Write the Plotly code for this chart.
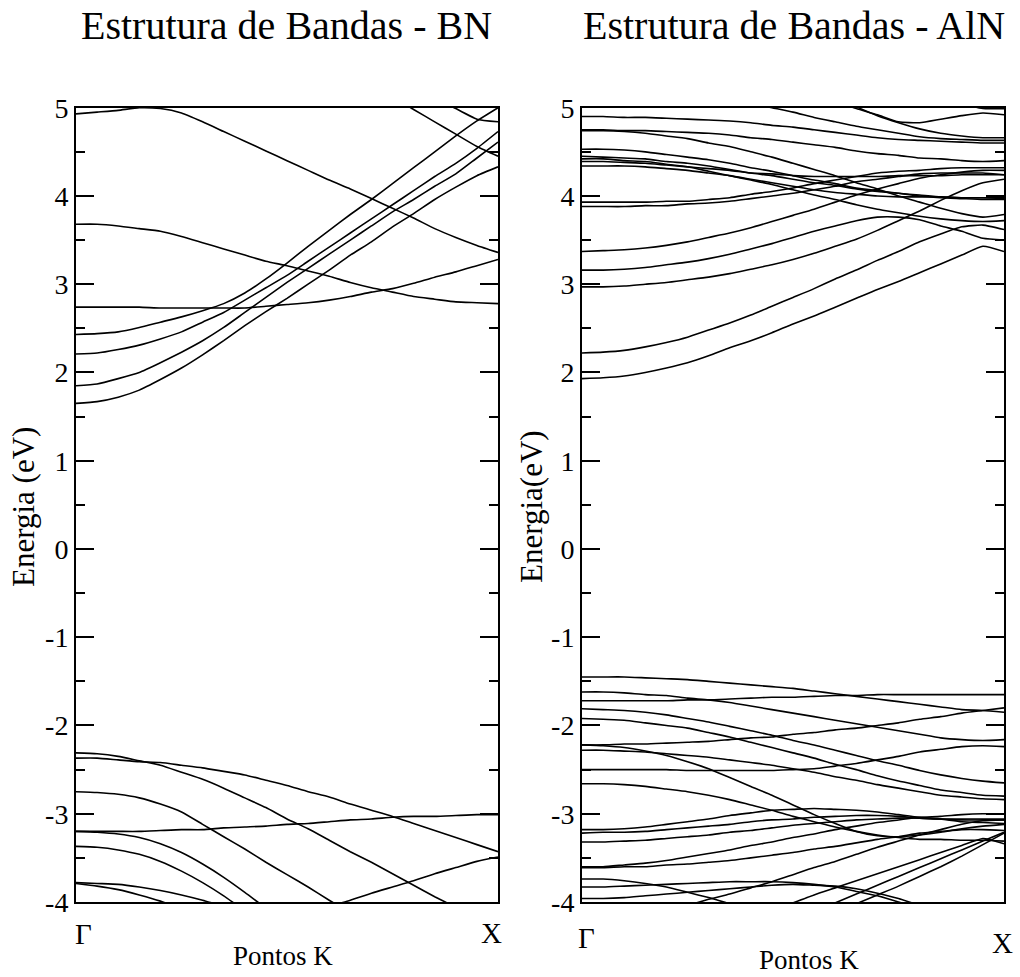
import plotly.graph_objects as go

# ---------------- data ----------------
K_POINTS = [0.00, 0.05, 0.10, 0.15, 0.20, 0.25, 0.30, 0.35, 0.40, 0.45, 0.50,
            0.55, 0.60, 0.65, 0.70, 0.75, 0.80, 0.85, 0.90, 0.95, 1.00]

Y_TICKS = [-4, -3, -2, -1, 0, 1, 2, 3, 4, 5]
Y_TICK_TEXT = ["-4", "-3", "-2", "-1", "0", "1", "2", "3", "4", "5"]
MINOR_TICKS = [-3.5, -2.5, -1.5, -0.5, 0.5, 1.5, 2.5, 3.5, 4.5]
K_LABELS = ["Γ", "X"]

# BN bands (energies in eV on K_POINTS)
bn_a = [2.74, 2.74, 2.74, 2.74, 2.73, 2.73, 2.73, 2.73, 2.73, 2.75, 2.77, 2.79, 2.82, 2.86, 2.91, 2.95, 3.01, 3.08, 3.14, 3.21, 3.28]
bn_b = [3.68, 3.68, 3.66, 3.63, 3.60, 3.54, 3.47, 3.40, 3.33, 3.26, 3.21, 3.15, 3.09, 3.02, 2.96, 2.91, 2.86, 2.83, 2.80, 2.79, 2.78]
bn_c = [4.93, 4.95, 4.97, 5.00, 4.99, 4.94, 4.84, 4.73, 4.62, 4.51, 4.40, 4.29, 4.18, 4.08, 3.97, 3.86, 3.75, 3.63, 3.53, 3.44, 3.36]
bn_r1 = [1.65, 1.67, 1.72, 1.80, 1.92, 2.05, 2.20, 2.36, 2.53, 2.69, 2.84, 3.00, 3.16, 3.33, 3.48, 3.65, 3.80, 3.96, 4.10, 4.23, 4.33]
bn_r2 = [1.85, 1.87, 1.93, 2.00, 2.11, 2.23, 2.36, 2.51, 2.68, 2.85, 3.02, 3.18, 3.34, 3.50, 3.66, 3.82, 3.96, 4.11, 4.25, 4.43, 4.61]
bn_r3 = [2.21, 2.22, 2.26, 2.31, 2.38, 2.46, 2.57, 2.68, 2.82, 2.96, 3.10, 3.26, 3.42, 3.58, 3.74, 3.90, 4.06, 4.22, 4.37, 4.54, 4.73]
bn_r4 = [2.43, 2.44, 2.46, 2.51, 2.57, 2.63, 2.70, 2.78, 2.90, 3.06, 3.24, 3.43, 3.61, 3.79, 3.96, 4.14, 4.32, 4.50, 4.68, 4.85, 5.00]
bn_d = [None] * 14 + [5.25, 5.12, 4.98, 4.84, 4.70, 4.56, 4.45]
bn_e = [None] * 17 + [5.12, 4.99, 4.87, 4.84]
bn_q = [-2.37, -2.37, -2.39, -2.41, -2.42, -2.45, -2.48, -2.52, -2.56, -2.62, -2.68, -2.75, -2.81, -2.89, -2.96, -3.03, -3.11, -3.19, -3.27, -3.35, -3.43]
bn_p = [-2.31, -2.32, -2.35, -2.40, -2.45, -2.53, -2.61, -2.71, -2.82, -2.93, -3.06, -3.17, -3.30, -3.43, -3.55, -3.68, -3.81, -3.94, -4.06, -4.18, -4.30]
bn_f = [-3.20, -3.20, -3.20, -3.20, -3.19, -3.18, -3.18, -3.16, -3.15, -3.14, -3.12, -3.11, -3.09, -3.07, -3.06, -3.04, -3.03, -3.03, -3.02, -3.01, -3.01]
bn_v3 = [-2.75, -2.76, -2.78, -2.82, -2.89, -2.98, -3.12, -3.26, -3.40, -3.55, -3.69, -3.83, -3.98, -4.12] + [None] * 7
bn_v4 = [-3.20, -3.21, -3.23, -3.27, -3.34, -3.44, -3.57, -3.72, -3.89, -4.07] + [None] * 11
bn_v5 = [-3.37, -3.38, -3.41, -3.46, -3.54, -3.65, -3.78, -3.93, -4.10] + [None] * 12
bn_v6 = [-3.78, -3.79, -3.80, -3.83, -3.87, -3.92, -3.98, -4.05] + [None] * 13
bn_v7 = [-3.79, -3.82, -3.86, -3.92, -3.99, -4.08] + [None] * 15
bn_rv = [None] * 12 + [-4.05, -3.98, -3.90, -3.83, -3.76, -3.68, -3.61, -3.54, -3.49]

BN_BANDS = [bn_a, bn_b, bn_c, bn_r1, bn_r2, bn_r3, bn_r4, bn_d, bn_e,
            bn_q, bn_p, bn_f, bn_v3, bn_v4, bn_v5, bn_v6, bn_v7, bn_rv]

# AlN bands
aln_r1 = [1.93, 1.94, 1.96, 2.00, 2.05, 2.11, 2.19, 2.28, 2.36, 2.45, 2.55, 2.64, 2.74, 2.84, 2.94, 3.03, 3.13, 3.23, 3.33, 3.43, 3.37]
aln_r2 = [2.22, 2.23, 2.25, 2.29, 2.34, 2.40, 2.48, 2.56, 2.65, 2.75, 2.85, 2.95, 3.06, 3.16, 3.27, 3.37, 3.48, 3.57, 3.65, 3.67, 3.62]
aln_r3 = [2.97, 2.97, 2.98, 3.00, 3.02, 3.05, 3.08, 3.12, 3.17, 3.22, 3.28, 3.35, 3.43, 3.51, 3.61, 3.72, 3.83, 3.95, 4.06, 4.15, 4.19]
aln_r4 = [3.16, 3.16, 3.17, 3.19, 3.22, 3.25, 3.29, 3.34, 3.40, 3.46, 3.53, 3.60, 3.66, 3.72, 3.76, 3.76, 3.73, 3.66, 3.60, 3.52, 3.50]
aln_r5 = [3.37, 3.38, 3.39, 3.41, 3.44, 3.48, 3.53, 3.58, 3.64, 3.71, 3.78, 3.85, 3.93, 4.01, 4.08, 4.14, 4.20, 4.24, 4.27, 4.29, 4.29]
aln_r6 = [3.93, 3.93, 3.93, 3.93, 3.94, 3.94, 3.96, 3.98, 4.02, 4.05, 4.09, 4.14, 4.18, 4.22, 4.26, 4.28, 4.29, 4.31, 4.32, 4.32, 4.32]
aln_r7 = [3.88, 3.88, 3.88, 3.89, 3.89, 3.91, 3.92, 3.94, 3.97, 4.00, 4.03, 4.07, 4.11, 4.16, 4.19, 4.22, 4.25, 4.26, 4.26, 4.26, 4.24]
aln_u1 = [4.90, 4.90, 4.89, 4.89, 4.88, 4.87, 4.86, 4.85, 4.83, 4.80, 4.78, 4.75, 4.72, 4.69, 4.66, 4.64, 4.63, 4.62, 4.61, 4.60, 4.60]
aln_u2 = [4.75, 4.75, 4.74, 4.74, 4.73, 4.72, 4.71, 4.69, 4.66, 4.64, 4.61, 4.58, 4.55, 4.51, 4.48, 4.46, 4.43, 4.42, 4.40, 4.39, 4.40]
aln_u3 = [4.74, 4.74, 4.73, 4.71, 4.68, 4.65, 4.60, 4.56, 4.50, 4.44, 4.37, 4.30, 4.23, 4.15, 4.08, 4.00, 3.93, 3.86, 3.80, 3.76, 3.79]
aln_u4 = [4.53, 4.53, 4.52, 4.50, 4.47, 4.44, 4.41, 4.37, 4.32, 4.28, 4.23, 4.18, 4.14, 4.09, 4.06, 4.03, 4.00, 3.98, 3.97, 3.96, 3.96]
aln_u5 = [4.45, 4.44, 4.43, 4.42, 4.39, 4.37, 4.34, 4.30, 4.26, 4.23, 4.19, 4.15, 4.12, 4.08, 4.05, 4.03, 4.01, 3.99, 3.98, 3.98, 3.98]
aln_u6 = [4.42, 4.42, 4.40, 4.39, 4.36, 4.33, 4.28, 4.23, 4.18, 4.13, 4.07, 4.01, 3.96, 3.90, 3.85, 3.81, 3.77, 3.74, 3.72, 3.71, 3.72]
aln_u7 = [4.39, 4.39, 4.38, 4.37, 4.35, 4.33, 4.31, 4.29, 4.26, 4.25, 4.23, 4.22, 4.22, 4.22, 4.22, 4.23, 4.23, 4.23, 4.24, 4.24, 4.24]
aln_u8 = [4.34, 4.34, 4.34, 4.33, 4.31, 4.29, 4.26, 4.23, 4.19, 4.15, 4.11, 4.07, 4.04, 4.02, 4.00, 3.99, 3.99, 3.99, 3.98, 3.98, 3.97]
aln_t1 = [None] * 8 + [5.05, 5.00, 4.95, 4.89, 4.84, 4.79, 4.75, 4.71, 4.67, 4.65, 4.64, 4.63, 4.63]
aln_t2 = [None] * 11 + [5.14, 5.07, 4.99, 4.92, 4.84, 4.83, 4.87, 4.91, 4.94, 4.92]
aln_t3 = [None] * 12 + [5.12, 5.01, 4.91, 4.83, 4.76, 4.71, 4.68, 4.66, 4.66]
aln_t4 = [None] * 18 + [5.05, 4.99, 4.99]
aln_w1 = [-1.45, -1.45, -1.45, -1.46, -1.47, -1.48, -1.50, -1.52, -1.54, -1.56, -1.58, -1.61, -1.64, -1.67, -1.70, -1.73, -1.76, -1.79, -1.82, -1.83, -1.85]
aln_w2 = [-1.62, -1.62, -1.63, -1.65, -1.66, -1.69, -1.71, -1.74, -1.78, -1.82, -1.86, -1.90, -1.94, -1.98, -2.02, -2.06, -2.10, -2.14, -2.16, -2.17, -2.16]
aln_w3 = [-1.72, -1.72, -1.72, -1.72, -1.72, -1.71, -1.71, -1.70, -1.69, -1.68, -1.68, -1.67, -1.66, -1.66, -1.65, -1.65, -1.65, -1.65, -1.65, -1.65, -1.65]
aln_w4 = [-1.81, -1.82, -1.83, -1.85, -1.88, -1.92, -1.96, -2.01, -2.06, -2.11, -2.17, -2.22, -2.28, -2.34, -2.40, -2.45, -2.51, -2.56, -2.60, -2.63, -2.65]
aln_w5 = [-1.92, -1.93, -1.94, -1.97, -2.00, -2.03, -2.08, -2.13, -2.19, -2.25, -2.31, -2.37, -2.44, -2.50, -2.57, -2.63, -2.68, -2.73, -2.76, -2.79, -2.80]
aln_w6 = [-2.22, -2.22, -2.21, -2.21, -2.20, -2.19, -2.18, -2.16, -2.14, -2.13, -2.10, -2.08, -2.05, -2.03, -2.00, -1.97, -1.93, -1.90, -1.86, -1.83, -1.80]
aln_w7 = [-2.22, -2.23, -2.25, -2.29, -2.34, -2.41, -2.49, -2.59, -2.69, -2.79, -2.90, -3.01, -3.11, -3.20, -3.25, -3.26, -3.24, -3.21, -3.17, -3.14, -3.12]
aln_w8 = [-2.28, -2.28, -2.29, -2.30, -2.32, -2.34, -2.36, -2.39, -2.42, -2.45, -2.49, -2.53, -2.58, -2.62, -2.67, -2.71, -2.75, -2.79, -2.81, -2.83, -2.84]
aln_w9 = [-2.50, -2.50, -2.50, -2.50, -2.50, -2.51, -2.51, -2.51, -2.51, -2.51, -2.50, -2.49, -2.46, -2.43, -2.39, -2.35, -2.30, -2.27, -2.24, -2.23, -2.24]
aln_w10 = [-2.66, -2.66, -2.67, -2.69, -2.72, -2.75, -2.79, -2.84, -2.90, -2.96, -3.03, -3.09, -3.15, -3.20, -3.24, -3.27, -3.29, -3.29, -3.30, -3.30, -3.31]
aln_w11 = [-3.18, -3.18, -3.17, -3.15, -3.12, -3.09, -3.06, -3.02, -2.99, -2.96, -2.95, -2.94, -2.95, -2.96, -2.98, -3.01, -3.04, -3.06, -3.09, -3.10, -3.11]
aln_w12 = [-3.22, -3.21, -3.21, -3.20, -3.18, -3.16, -3.14, -3.12, -3.09, -3.07, -3.06, -3.04, -3.03, -3.02, -3.02, -3.03, -3.05, -3.06, -3.07, -3.07, -3.07]
aln_w13 = [-3.32, -3.32, -3.31, -3.30, -3.28, -3.26, -3.24, -3.21, -3.19, -3.16, -3.13, -3.11, -3.09, -3.07, -3.06, -3.05, -3.05, -3.06, -3.06, -3.06, -3.06]
aln_w14 = [-3.60, -3.60, -3.58, -3.56, -3.53, -3.49, -3.45, -3.41, -3.36, -3.32, -3.27, -3.23, -3.18, -3.14, -3.10, -3.07, -3.04, -3.03, -3.01, -3.00, -3.00]
aln_w15 = [-3.61, -3.61, -3.60, -3.60, -3.58, -3.57, -3.55, -3.53, -3.50, -3.47, -3.44, -3.40, -3.37, -3.33, -3.29, -3.26, -3.22, -3.20, -3.18, -3.18, -3.19]
aln_w16 = [-3.74, -3.74, -3.76, -3.79, -3.83, -3.89, -3.95, -4.02, -4.09] + [None] * 12
aln_w17 = [-3.83, -3.83, -3.82, -3.81, -3.80, -3.79, -3.78, -3.77, -3.77, -3.77, -3.78, -3.80, -3.83, -3.88, -3.93, -4.00, -4.08] + [None] * 4
aln_w18 = [-3.96, -3.96, -3.95, -3.93, -3.91, -3.89, -3.87, -3.85, -3.83, -3.81, -3.80, -3.81, -3.82, -3.85, -3.90, -3.96, -4.04] + [None] * 4
aln_b1 = [None] * 5 + [-4.04, -3.97, -3.91, -3.84, -3.77, -3.69, -3.61, -3.54, -3.46, -3.38, -3.31, -3.24, -3.18, -3.12, -3.08, -3.07]
aln_b2 = [None] * 10 + [-4.01, -3.92, -3.84, -3.76, -3.68, -3.60, -3.52, -3.44, -3.36, -3.28, -3.34]
aln_b3 = [None] * 12 + [-4.01, -3.91, -3.81, -3.71, -3.61, -3.51, -3.41, -3.31, -3.21]
aln_b4 = [None] * 13 + [-4.02, -3.92, -3.82, -3.71, -3.60, -3.48, -3.35, -3.22]

ALN_BANDS = [aln_r1, aln_r2, aln_r3, aln_r4, aln_r5, aln_r6, aln_r7,
             aln_u1, aln_u2, aln_u3, aln_u4, aln_u5, aln_u6, aln_u7, aln_u8,
             aln_t1, aln_t2, aln_t3, aln_t4,
             aln_w1, aln_w2, aln_w3, aln_w4, aln_w5, aln_w6, aln_w7, aln_w8, aln_w9,
             aln_w10, aln_w11, aln_w12, aln_w13, aln_w14, aln_w15, aln_w16, aln_w17,
             aln_w18, aln_b1, aln_b2, aln_b3, aln_b4]

# ---------------- figure ----------------
W, H = 1020, 977
SERIF = "Liberation Serif"
LINE = dict(color="black", width=1.6, shape="spline", smoothing=0.5)

fig = go.Figure()
for band in BN_BANDS:
    fig.add_trace(go.Scatter(x=K_POINTS, y=band, mode="lines", line=LINE,
                             xaxis="x", yaxis="y", hoverinfo="skip", showlegend=False))
for band in ALN_BANDS:
    fig.add_trace(go.Scatter(x=K_POINTS, y=band, mode="lines", line=LINE,
                             xaxis="x2", yaxis="y2", hoverinfo="skip", showlegend=False))


def xax(domain, anchor):
    return dict(domain=domain, anchor=anchor, range=[0, 1], showline=True, linecolor="black",
                linewidth=2, mirror=True, showgrid=False, zeroline=False,
                showticklabels=False, ticks="", automargin=False)


def yax(anchor):
    return dict(domain=[75 / H, 869.3 / H], anchor=anchor, range=[-4, 5], tickmode="array",
                tickvals=Y_TICKS, ticktext=Y_TICK_TEXT, ticks="inside", ticklen=18,
                tickwidth=2, tickcolor="black", showline=True, linecolor="black",
                linewidth=2, mirror="ticks", showgrid=False, zeroline=False,
                automargin=False,
                tickfont=dict(family=SERIF, size=28, color="black"),
                minor=dict(tickmode="array", tickvals=MINOR_TICKS, ticks="inside",
                           ticklen=9, tickwidth=2, tickcolor="black", showgrid=False))


def ann(text, px, py, size, angle=0):
    return dict(text=text, x=px / W, y=1 - py / H, xref="paper", yref="paper",
                showarrow=False, textangle=angle, xanchor="center", yanchor="middle",
                font=dict(family=SERIF, size=size, color="black"))


fig.update_layout(
    template="none",
    width=W, height=H,
    margin=dict(l=0, r=0, t=0, b=0, pad=0, autoexpand=False),
    paper_bgcolor="white", plot_bgcolor="white",
    xaxis=xax([76 / W, 498 / W], "y"),
    yaxis=yax("x"),
    xaxis2=xax([582 / W, 1004 / W], "y2"),
    yaxis2=yax("x2"),
    annotations=[
        ann("Estrutura de Bandas - BN", 286, 26, 40),
        ann("Estrutura de Bandas - AlN", 794, 26, 40),
        ann("Energia (eV)", 23, 507, 31, -90),
        ann("Energia(eV)", 531, 507, 31, -90),
        ann("Pontos K", 283, 956, 27),
        ann("Pontos K", 809, 960, 27),
        ann(K_LABELS[0], 83, 934, 29),
        ann(K_LABELS[1], 491, 933, 29),
        ann(K_LABELS[0], 586, 938, 29),
        ann(K_LABELS[1], 1002, 943, 29),
    ],
)

fig.write_html("out.html", config={"displayModeBar": False},
               post_script="document.body.style.margin='0';document.body.style.overflow='hidden';")
